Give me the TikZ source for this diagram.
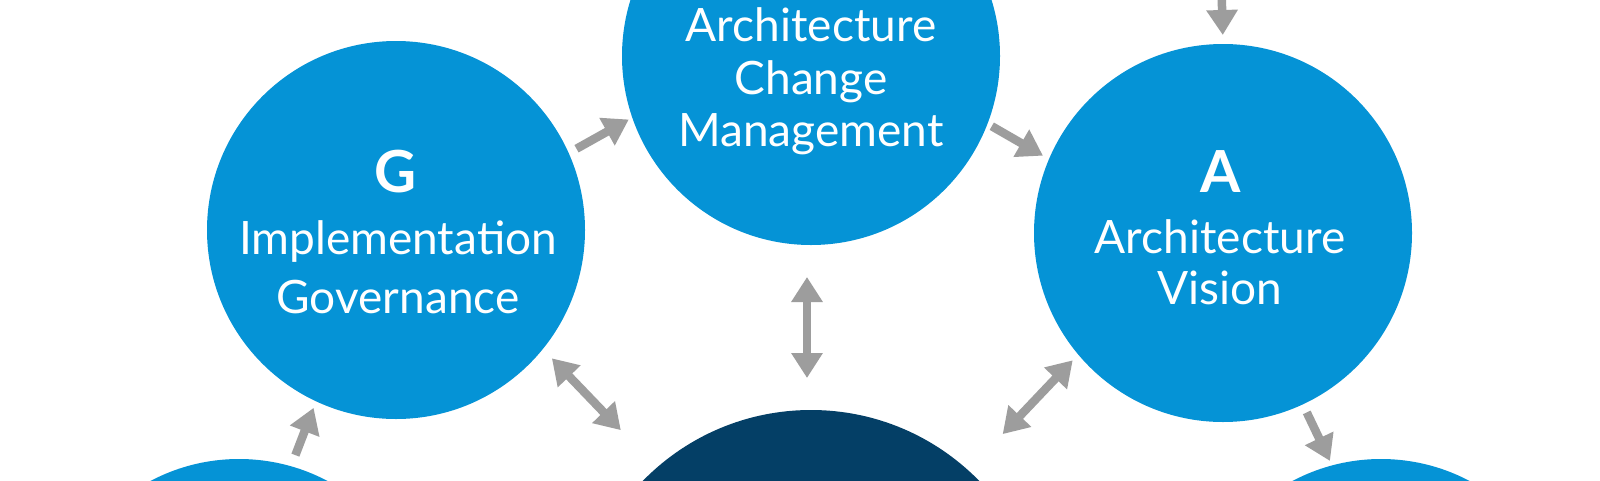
\documentclass[tikz,border=0pt]{standalone}
\usepackage{fontspec}
\setmainfont{Lato}
\usetikzlibrary{arrows.meta}
\definecolor{phase}{HTML}{0593D6}
\definecolor{core}{HTML}{043F66}
\definecolor{arr}{HTML}{9D9D9D}
\begin{document}
\begin{tikzpicture}[x=1pt,y=1pt,
  phasec/.style={circle, fill=phase, minimum size=378pt, inner sep=0pt, outer sep=0pt},
  corec/.style={circle, fill=core, minimum size=470pt, inner sep=0pt, outer sep=0pt},
  lbl/.style={text=white, font=\fontsize{46}{52}\selectfont, anchor=base, inner sep=0pt},
  big/.style={text=white, font=\fontsize{58}{62}\selectfont\bfseries, anchor=base, inner sep=0pt},
  tipa/.tip={Triangle[length=25pt,width=30pt]},
  onearr/.style={color=arr, line width=8.5pt, -tipa},
  twoarr/.style={color=arr, line width=8.5pt, tipa-tipa}
]
\useasboundingbox (0,0) rectangle (1600,-480);
\fill[white] (0,0) rectangle (1600,-480);

\node[phasec] (H) at (811,-56) {};
\node[phasec] (G) at (396,-230) {};
\node[phasec] (A) at (1223,-233) {};
\node[phasec] (F) at (239,-648) {};
\node[phasec] (B) at (1381,-648) {};
\node[corec] (R) at (811,-645) {};

\node[lbl] (h1) at (811,-41) {Architecture};
\node[lbl] (h2) at (811,-94) {Change};
\node[lbl] (h3) at (811,-146) {Management};

\node[big] (g0) at (396,-192) {G};
\node[lbl] (g1) at (398,-254) {Implementation};
\node[lbl] (g2) at (398,-313) {Governance};

\node[big] (a0) at (1221,-192) {A};
\node[lbl] (a1) at (1220,-253) {Architecture};
\node[lbl] (a2) at (1220,-304) {Vision};

\coordinate (pre) at (1221,30);

\draw[onearr, shorten <=9pt, shorten >=4pt] (G.24) -- (H.199);
\draw[onearr, shorten <=5pt, shorten >=7pt] (H.339) -- (A.157);
\draw[onearr, shorten >=9pt] (pre) -- (A.north);
\draw[onearr, shorten <=9pt, shorten >=5pt] (A.295) -- (B.105);
\draw[onearr, shorten <=12pt, shorten >=7pt] (F.74) -- (G.245);
\draw[twoarr, shorten <=32pt, shorten >=32pt] ([xshift=-4pt]H.south) -- ([xshift=-4pt]R.north);
\draw[twoarr, shorten <=13pt, shorten >=52pt] (G.321) -- (R.131.5);
\draw[twoarr, shorten <=8pt, shorten >=50pt] (A.220) -- (R.48.5);
\end{tikzpicture}
\end{document}
